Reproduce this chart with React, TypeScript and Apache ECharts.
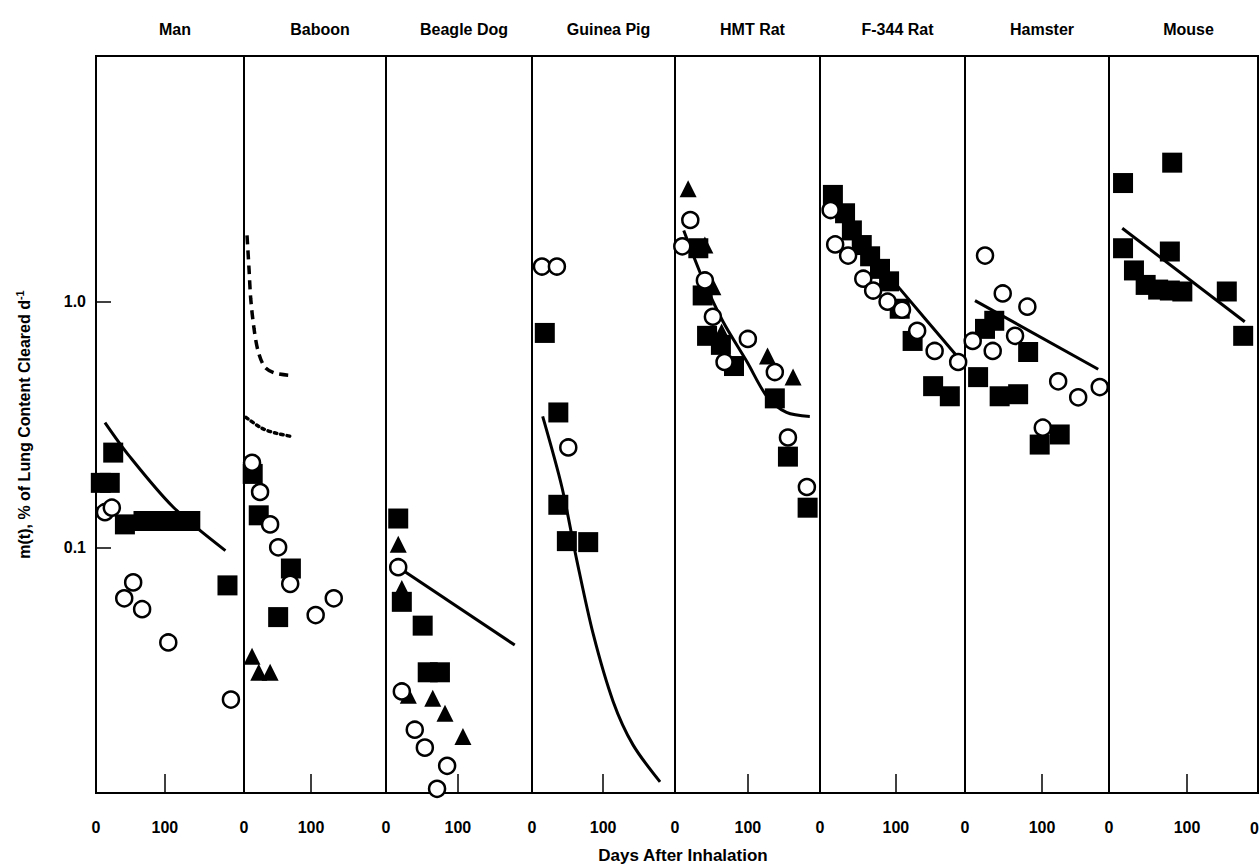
import React, { useEffect, useRef } from "react";
import * as echarts from "echarts";

// ---------- data ----------
const panelNames = ["Man", "Baboon", "Beagle Dog", "Guinea Pig", "HMT Rat", "F-344 Rat", "Hamster", "Mouse"];
const xMax = [215, 212, 203, 201, 199, 191, 187, 191];
const xTickLabels = [0, 100];
const yTickValues = [0.1, 1];

const manSquares = [[7, 0.183], [20, 0.183], [25, 0.243], [42, 0.124], [69, 0.128], [91, 0.128], [112, 0.128], [137, 0.128], [191, 0.07]];
const manCircles = [[13, 0.139], [23, 0.145], [41, 0.062], [54, 0.072], [67, 0.056], [105, 0.041], [196, 0.024]];
const manFit = [[13, 0.322], [47, 0.238], [112, 0.146], [188, 0.097]];

const baboonSquares = [[13, 0.199], [22, 0.135], [70, 0.082], [51, 0.052]];
const baboonCircles = [[12, 0.221], [24, 0.168], [39, 0.124], [51, 0.1], [69, 0.071], [107, 0.053], [134, 0.062]];
const baboonTriangles = [[12, 0.036], [22, 0.031], [39, 0.031]];
const baboonDashed = [[4.5, 1.86], [7.5, 1.36], [10, 1.03], [15, 0.775], [21, 0.63], [31, 0.542], [46, 0.512], [66, 0.502]];
const baboonDotted = [[3, 0.338], [27, 0.305], [49, 0.291], [73, 0.282]];

const beagleSquares = [[17, 0.131], [22, 0.06], [51, 0.048], [58, 0.031], [75, 0.031]];
const beagleTriangles = [[17, 0.103], [22, 0.068], [31, 0.025], [65, 0.0243], [82, 0.0211], [107, 0.017]];
const beagleCircles = [[17, 0.083], [22, 0.0259], [40, 0.0181], [54, 0.0153], [85, 0.0129], [71, 0.0104]];
const beagleFit = [[17, 0.083], [179, 0.04]];

const guineaCircles = [[14, 1.39], [35, 1.39], [51, 0.255]];
const guineaSquares = [[18, 0.746], [37, 0.354], [37, 0.149], [49, 0.106], [79, 0.105]];
const guineaFit = [[15, 0.341], [42, 0.176], [63, 0.0885], [86, 0.0444], [114, 0.0236], [142, 0.0157], [180, 0.0111]];

const hmtTriangles = [[18, 2.88], [41, 1.7], [52, 1.15], [64, 0.753], [127, 0.601], [162, 0.493]];
const hmtCircles = [[21, 2.15], [10, 1.68], [41, 1.22], [52, 0.868], [68, 0.568], [100, 0.705], [137, 0.517], [155, 0.28], [181, 0.176]];
const hmtSquares = [[32, 1.65], [38, 1.06], [44, 0.726], [63, 0.667], [81, 0.547], [137, 0.404], [155, 0.234], [182, 0.145]];
const hmtFit = [[12, 1.95], [38, 1.24], [66, 0.828], [99, 0.568], [126, 0.412], [153, 0.354], [185, 0.341]];

const f344Squares = [[17, 2.72], [33, 2.29], [42, 1.95], [55, 1.7], [66, 1.53], [79, 1.36], [91, 1.21], [105, 0.936], [122, 0.692], [149, 0.453], [171, 0.412]];
const f344Circles = [[14, 2.36], [20, 1.71], [37, 1.54], [57, 1.24], [70, 1.11], [89, 1.0], [108, 0.927], [128, 0.761], [151, 0.63], [182, 0.568]];
const f344Fit = [[13, 2.45], [55, 1.73], [105, 1.13], [187, 0.568]];

const hamsterCircles = [[26, 1.54], [49, 1.08], [81, 0.954], [65, 0.726], [10, 0.692], [36, 0.63], [121, 0.474], [147, 0.408], [175, 0.449], [101, 0.307]];
const hamsterSquares = [[26, 0.775], [38, 0.836], [82, 0.624], [17, 0.493], [45, 0.412], [69, 0.42], [97, 0.262], [123, 0.288]];
const hamsterFit = [[13, 1.01], [173, 0.531]];

const mouseSquares = [[18, 3.04], [81, 3.68], [18, 1.65], [32, 1.34], [47, 1.17], [63, 1.12], [78, 1.11], [94, 1.1], [78, 1.6], [151, 1.1], [172, 0.726]];
const mouseFit = [[17, 1.99], [174, 0.828]];

const panels = [
  { squares: manSquares, circles: manCircles, triangles: [], lines: [{ data: manFit, dash: "solid" }] },
  { squares: baboonSquares, circles: baboonCircles, triangles: baboonTriangles, lines: [{ data: baboonDashed, dash: "dashed" }, { data: baboonDotted, dash: "dotted" }] },
  { squares: beagleSquares, circles: beagleCircles, triangles: beagleTriangles, lines: [{ data: beagleFit, dash: "solid" }] },
  { squares: guineaSquares, circles: guineaCircles, triangles: [], lines: [{ data: guineaFit, dash: "solid" }] },
  { squares: hmtSquares, circles: hmtCircles, triangles: hmtTriangles, lines: [{ data: hmtFit, dash: "solid" }] },
  { squares: f344Squares, circles: f344Circles, triangles: [], lines: [{ data: f344Fit, dash: "solid" }] },
  { squares: hamsterSquares, circles: hamsterCircles, triangles: [], lines: [{ data: hamsterFit, dash: "solid" }] },
  { squares: mouseSquares, circles: [], triangles: [], lines: [{ data: mouseFit, dash: "solid" }] },
];

// ---------- layout ----------
const edges = [96, 244, 386, 532, 675, 820, 965, 1109, 1258];
const TOP = 56;
const HEIGHT = 737;
const FONT = "'Liberation Sans', Arial, Helvetica, sans-serif";

export default function App() {
  const ref = useRef<HTMLDivElement>(null);

  useEffect(() => {
    if (!ref.current) return;
    const chart = echarts.init(ref.current, null, { renderer: "svg" });

    const grid: any[] = [];
    const xAxis: any[] = [];
    const yAxis: any[] = [];
    const series: any[] = [];
    const title: any[] = [];

    panels.forEach((p, i) => {
      const left = edges[i];
      const width = edges[i + 1] - edges[i];
      grid.push({ left, top: TOP, width, height: HEIGHT, show: true, borderColor: "#000", borderWidth: 2, backgroundColor: "transparent", containLabel: false });
      title.push({
        text: panelNames[i],
        left: left + width / 2,
        top: 16,
        textAlign: "center",
        textStyle: { fontFamily: FONT, fontWeight: "bold", fontSize: 16, color: "#000" },
      });
      xAxis.push({
        type: "value",
        gridIndex: i,
        min: 0,
        max: xMax[i],
        interval: 100,
        axisLine: { show: false },
        splitLine: { show: false },
        axisTick: { show: true, inside: true, length: 19, customValues: [100], lineStyle: { color: "#000", width: 1.5 } },
        axisLabel: {
          show: true,
          customValues: xTickLabels,
          margin: 26,
          color: "#000",
          fontFamily: FONT,
          fontWeight: "bold",
          fontSize: 16,
        },
      });
      yAxis.push({
        type: "log",
        logBase: 10,
        gridIndex: i,
        min: 0.01,
        max: 10,
        axisLine: { show: false },
        splitLine: { show: false },
        axisTick: i === 0 ? { show: true, inside: true, length: 15, customValues: yTickValues, lineStyle: { color: "#000", width: 1.5 } } : { show: false },
        axisLabel: i === 0
          ? {
              show: true,
              customValues: yTickValues,
              margin: 10,
              color: "#000",
              fontFamily: FONT,
              fontWeight: "bold",
              fontSize: 16,
              formatter: (v: number) => {
                const e = Math.round(Math.log10(v));
                return e === 0 ? "1.0" : e === -1 ? "0.1" : "";
              },
            }
          : { show: false },
        name: i === 0 ? "m(t), % of Lung Content Cleared d{sup|-1}" : "",
        nameLocation: "middle",
        nameGap: 62,
        nameTextStyle: {
          fontFamily: FONT,
          fontWeight: "bold",
          fontSize: 16,
          color: "#000",
          lineHeight: 20,
          rich: { sup: { fontFamily: FONT, fontWeight: "bold", fontSize: 11, color: "#000", verticalAlign: "top", lineHeight: 12 } },
        },
      });

      p.lines.forEach((l) => {
        series.push({
          type: "line",
          xAxisIndex: i,
          yAxisIndex: i,
          data: l.data,
          symbol: "none",
          showSymbol: false,
          smooth: 0.3,
          z: 2,
          lineStyle: {
            color: "#000",
            opacity: 1,
            width: l.dash === "solid" ? 3 : 3.5,
            type: l.dash === "dashed" ? [9, 6] : l.dash === "dotted" ? [2.5, 4] : "solid",
            cap: l.dash === "dotted" ? "round" : "butt",
          },
        });
      });
      if (p.squares.length)
        series.push({ type: "scatter", xAxisIndex: i, yAxisIndex: i, data: p.squares, symbol: "rect", symbolSize: 20, clip: false, z: 3, itemStyle: { color: "#000", opacity: 1 } });
      if (p.triangles.length)
        series.push({ type: "scatter", xAxisIndex: i, yAxisIndex: i, data: p.triangles, symbol: "triangle", symbolSize: 17, clip: false, z: 4, itemStyle: { color: "#000", opacity: 1 } });
      if (p.circles.length)
        series.push({
          type: "scatter",
          xAxisIndex: i,
          yAxisIndex: i,
          data: p.circles,
          symbol: "circle",
          symbolSize: 16,
          clip: false,
          z: 5,
          itemStyle: { color: "#fff", borderColor: "#000", borderWidth: 2.5, opacity: 1 },
        });
    });

    chart.setOption({
      animation: false,
      backgroundColor: "#fff",
      title,
      grid,
      xAxis,
      yAxis,
      series,
      graphic: [
        {
          type: "text",
          x: 683,
          y: 855,
          style: { text: "Days After Inhalation", align: "center", verticalAlign: "middle", fontFamily: FONT, fontWeight: "bold", fontSize: 17, fill: "#000" },
        },
        {
          type: "text",
          x: 1259,
          y: 828,
          style: { text: "0", align: "right", verticalAlign: "middle", fontFamily: FONT, fontWeight: "bold", fontSize: 16, fill: "#000" },
        },
      ],
    });

    return () => chart.dispose();
  }, []);

  return <div ref={ref} style={{ position: "absolute", left: 0, top: 0, width: 1260, height: 868 }} />;
}
